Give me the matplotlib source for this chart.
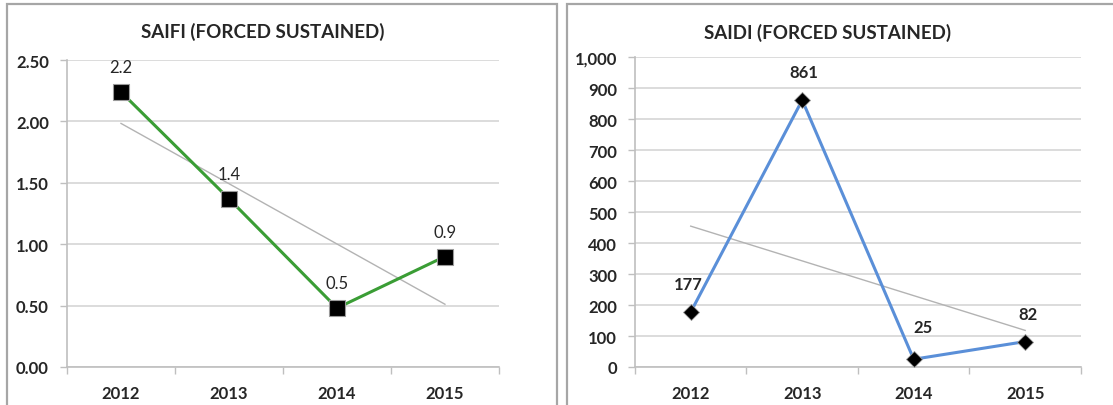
import numpy as np
import matplotlib
matplotlib.use("Agg")
import matplotlib.pyplot as plt
from matplotlib.patches import Rectangle
from matplotlib.ticker import FuncFormatter

plt.rcParams['font.family'] = ['Lato', 'DejaVu Sans']

# datos de los indices por año
anios = ['2012', '2013', '2014', '2015']
saifi = [2.24, 1.37, 0.48, 0.90]
saidi = [177, 861, 25, 82]

titulo_saifi = 'SAIFI (FORCED SUSTAINED)'
titulo_saidi = 'SAIDI (FORCED SUSTAINED)'

GRIS_EJE = '#bfbfbf'
GRIS_REJILLA = '#d9d9d9'
GRIS_TENDENCIA = '#b3b3b3'

fig = plt.figure(figsize=(11.13, 4.06), dpi=100)


def preparar_ejes(ax, ymax, paso, fmt):
    x = np.arange(len(anios))
    ax.set_xlim(-0.5, len(anios) - 0.5)
    ax.set_ylim(0, ymax)
    ax.set_yticks(np.arange(0, ymax + paso / 2, paso))
    ax.yaxis.set_major_formatter(FuncFormatter(fmt))
    ax.set_xticks(x)
    ax.set_xticklabels(anios)
    ax.set_xticks(np.arange(-0.5, len(anios)), minor=True)
    ax.tick_params(axis='x', which='major', length=0, pad=13, labelsize=12)
    ax.tick_params(axis='x', which='minor', length=5, color=GRIS_EJE, width=1)
    ax.tick_params(axis='y', length=5, color=GRIS_EJE, width=1, pad=8, labelsize=12)
    for lbl in ax.get_xticklabels() + ax.get_yticklabels():
        lbl.set_fontweight('bold')
        lbl.set_color('#262626')
    ax.grid(axis='y', color=GRIS_REJILLA, lw=1.3)
    ax.set_axisbelow(True)
    for lado in ['top', 'right']:
        ax.spines[lado].set_visible(False)
    for lado in ['left', 'bottom']:
        ax.spines[lado].set_color(GRIS_EJE)
        ax.spines[lado].set_linewidth(1.2)
    return x


def tendencia(ax, x, y):
    # linea de tendencia lineal como la de excel
    m, b = np.polyfit(x, y, 1)
    ax.plot(x, m * x + b, color=GRIS_TENDENCIA, lw=1, zorder=2)


# grafica SAIFI
ax1 = fig.add_axes([0.0602, 0.0936, 0.3881, 0.756])
x = preparar_ejes(ax1, 2.5, 0.5, lambda v, p: '{:.2f}'.format(v))
tendencia(ax1, x, saifi)
ax1.plot(x, saifi, color='#3a9d35', lw=2.2, marker='s', markersize=12,
         markerfacecolor='black', markeredgecolor='#9a9a9a', markeredgewidth=0.8, zorder=3)
for xi, yi in zip(x, saifi):
    ax1.annotate('{:.1f}'.format(yi), (xi, yi), xytext=(0, 18), textcoords='offset points',
                 ha='center', va='center', fontsize=12, color='#262626')
fig.text(263 / 1113, 1 - 32 / 406, titulo_saifi, ha='center', va='center',
         fontsize=13.5, fontweight='bold', color='#262626')

# grafica SAIDI
ax2 = fig.add_axes([0.5705, 0.0936, 0.4007, 0.7635])
x = preparar_ejes(ax2, 1000, 100, lambda v, p: '{:,.0f}'.format(v))
tendencia(ax2, x, saidi)
ax2.plot(x, saidi, color='#5a8fd8', lw=2.2, marker='D', markersize=8.5,
         markerfacecolor='black', markeredgecolor='#9a9a9a', markeredgewidth=0.6, zorder=3)
desfases = [(-2, 20), (1, 20), (7, 23), (2, 20)]
for xi, yi, d in zip(x, saidi, desfases):
    ax2.annotate('{}'.format(yi), (xi, yi), xytext=d, textcoords='offset points',
                 ha='center', va='center', fontsize=12, fontweight='bold', color='#262626')
fig.text(828 / 1113, 1 - 33 / 406, titulo_saidi, ha='center', va='center',
         fontsize=13.5, fontweight='bold', color='#262626')

# marcos de cada grafica
fig.patches.append(Rectangle((7 / 1113, -0.05), 550 / 1113, 1.05 - 5 / 406,
                             transform=fig.transFigure, fill=False,
                             edgecolor='#a6a6a6', lw=1.6))
fig.patches.append(Rectangle((567 / 1113, -0.05), 0.6, 1.05 - 5 / 406,
                             transform=fig.transFigure, fill=False,
                             edgecolor='#a6a6a6', lw=1.6))

fig.savefig('out.png', dpi=100)
